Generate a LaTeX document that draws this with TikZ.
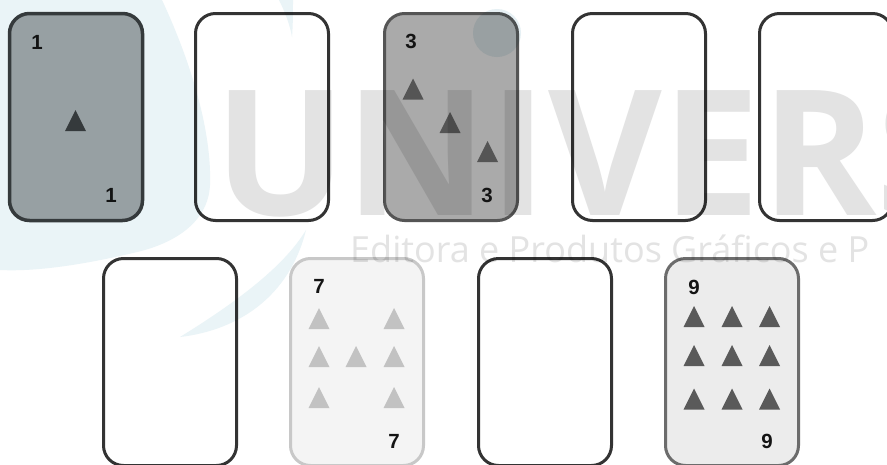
\documentclass[tikz,border=0pt]{standalone}
\usepackage{fontspec}
\newfontfamily\numfont{Liberation Sans}
\newfontfamily\wmfont{Open Sans}
\definecolor{cardA}{HTML}{A5A8A9}
\definecolor{cardAline}{HTML}{3A3D3E}
\definecolor{cardC}{HTML}{AAAAAA}
\definecolor{cardCline}{HTML}{555555}
\definecolor{cardG}{HTML}{F4F4F4}
\definecolor{cardGline}{HTML}{C8C8C8}
\definecolor{cardGtri}{HTML}{C2C2C2}
\definecolor{cardI}{HTML}{ECECEC}
\definecolor{cardIline}{HTML}{6C6C6C}
\definecolor{cardItri}{HTML}{5A5A5A}
\definecolor{plainline}{HTML}{333333}
\definecolor{wmblue}{HTML}{EAF4F7}
\definecolor{wmdot}{HTML}{E6F0F4}
\definecolor{wmgray}{HTML}{E3E3E3}
\newcommand\cardtri[3]{\fill[#3] ({#1-10.5},{#2+10.5}) -- ({#1+10.5},{#2+10.5}) -- (#1,{#2-10.5}) -- cycle;}
\begin{document}
\begin{tikzpicture}[x=1pt,y=-1pt,
  card/.style={draw, rectangle, rounded corners=20pt, minimum width=133pt, minimum height=207pt, line width=3pt, inner sep=0pt},
  plaincard/.style={card, fill=white, draw=plainline},
  num/.style={font=\numfont\bfseries\fontsize{20.5}{20.5}\selectfont, inner sep=0pt, text=black!92},
  wmtext/.style={font=\wmfont\bfseries\fontsize{175}{175}\selectfont, inner sep=0pt, text=wmgray},
  wmsub/.style={font=\wmfont\fontsize{36}{36}\selectfont, inner sep=0pt, text=wmgray}]
\useasboundingbox (0,0) rectangle (887,464);
\clip (0,0) rectangle (887,464);
\fill[white] (0,0) rectangle (887,464);
% top row
\node[card, fill=cardA, draw=cardAline, line width=3.5pt] (c1) at (76,117) {};
\node[plaincard] (c2) at (262,117) {};
\node[card, fill=cardC, draw=cardCline] (c3) at (451,117) {};
\node[plaincard] (c4) at (639,117) {};
\node[plaincard] (c5) at (826,117) {};
% bottom row
\node[plaincard] (c6) at (170,362) {};
\node[card, fill=cardG, draw=cardGline] (c7) at (357,362) {};
\node[plaincard] (c8) at (545,362) {};
\node[card, fill=cardI, draw=cardIline] (c9) at (732,362) {};
% numbers
\node[num] (n1a) at (37,42) {1};
\node[num] (n1b) at (111,195) {1};
\node[num] (n3a) at (411,41) {3};
\node[num] (n3b) at (487,195) {3};
\node[num] (n7a) at (319,286) {7};
\node[num] (n7b) at (394,441) {7};
\node[num] (n9a) at (694,287) {9};
\node[num] (n9b) at (767,441) {9};
% triangles
\cardtri{75.5}{120.5}{cardAline}
\cardtri{413}{89}{cardCline}
\cardtri{450}{122.5}{cardCline}
\cardtri{487.5}{151.5}{cardCline}
\foreach \x/\y in {319/318.5, 394/318.5, 319/356.5, 356/356.5, 394/356.5, 319/397.5, 394/397.5}{\cardtri{\x}{\y}{cardGtri}}
\foreach \x in {694,732,769.5}{\foreach \y in {316.5,355.5,399}{\cardtri{\x}{\y}{cardItri}}}
% watermark
\begin{scope}[blend mode=multiply]
\fill[wmblue] (0,0) -- (162,0) .. controls (190,60) and (212,130) .. (210,185) .. controls (208,225) and (170,245) .. (133,253) .. controls (90,263) and (40,272) .. (0,270) -- cycle;
\fill[wmblue] (279,0) .. controls (285,12) and (290,25) .. (292,37) .. controls (293,25) and (293,10) .. (293,0) -- cycle;
\fill[wmblue] (180,337) .. controls (240,330) and (290,295) .. (306,230) .. controls (285,265) and (240,300) .. (180,337) -- cycle;
\fill[wmdot] (497,33) circle[radius=24];
\node[wmtext, anchor=base west] (wm) at (214,215) {U\kern-1pt N\kern2pt I\kern1pt V\kern0pt E\kern1pt R\kern0pt S};
\node[wmsub, anchor=base west] (wmsub) at (350,262) {Editora e Produtos Gráficos e P};
\end{scope}
\end{tikzpicture}
\end{document}
